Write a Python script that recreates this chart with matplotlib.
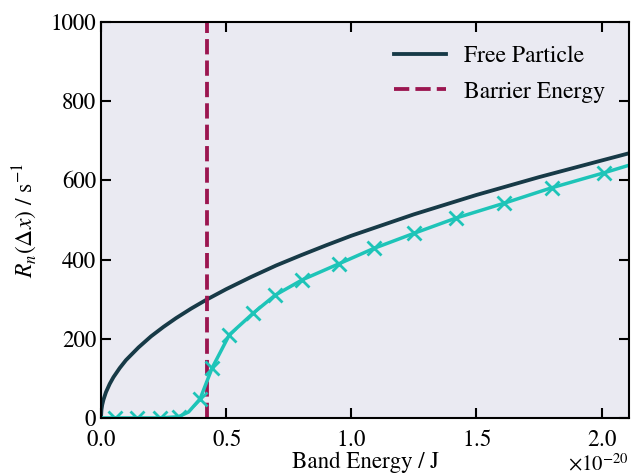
import numpy as np
import matplotlib
matplotlib.use("Agg")
from matplotlib import pyplot as plt
from matplotlib.ticker import ScalarFormatter

plt.rcParams['font.family'] = ['STIXGeneral', 'DejaVu Serif']
plt.rcParams['mathtext.fontset'] = 'stix'

# energies in units of 1e-20 J
free_E = [0, 0.002, 0.005, 0.01, 0.02, 0.035, 0.05, 0.075, 0.1, 0.15, 0.2, 0.25, 0.3, 0.36,
          0.42, 0.5, 0.6, 0.7, 0.8, 0.9, 1.0, 1.25, 1.5, 1.75, 2.0, 2.12]
free_R = [0, 21, 33, 46, 65, 86, 103, 126, 146, 178, 206, 230, 252, 276,
          298, 325, 356, 385, 411, 436, 460, 514, 563, 608, 650, 670]

band_E = [0, 0.056, 0.144, 0.236, 0.31, 0.35, 0.396, 0.444, 0.513, 0.609, 0.696, 0.805,
          0.95, 1.09, 1.25, 1.42, 1.61, 1.80, 2.01, 2.12]
band_R = [0, 0, 0, 0, 3, 15, 48, 126, 210, 265, 310, 349,
          389, 428, 466, 505, 542, 581, 619, 640]
marker_idx = [1, 2, 3, 4, 6, 7, 8, 9, 10, 11, 12, 13, 14, 15, 16, 17, 18]

barrier_E = 0.424
scale = 1e-20

fig = plt.figure(figsize=(6.31, 4.76), dpi=100)
ax = fig.add_axes([0.160, 0.122, 0.837, 0.832])
ax.set_facecolor('#eaeaf2')

ax.plot(np.array(free_E) * scale, free_R, color='#173a47', lw=2.75, label='Free Particle')
ax.axvline(barrier_E * scale, color='#9b1650', lw=2.75, ls=(0, (4.0, 1.6)), label='Barrier Energy')
ax.plot(np.array(band_E) * scale, band_R, color='#1ec4b8', lw=2.5, marker='x',
        markersize=10.5, mew=2, markevery=marker_idx)

ax.set_xlim(0, 2.11 * scale)
ax.set_ylim(0, 1000)
ax.set_xticks(np.array([0, 0.5, 1.0, 1.5, 2.0]) * scale)
ax.set_yticks([0, 200, 400, 600, 800, 1000])
fmt = ScalarFormatter(useMathText=True)
ax.xaxis.set_major_formatter(fmt)
# draw the x10^-20 multiplier ourselves so it stays inside the figure
ax.xaxis.get_offset_text().set_visible(False)
ax.text(1.0, -0.117, r'$\times 10^{-20}$', transform=ax.transAxes,
        ha='right', va='center', fontsize=15)

ax.tick_params(direction='in', top=True, right=True, length=7, width=1.5, labelsize=16.5)
ax.tick_params(axis='x', pad=8.5)
for s in ax.spines.values():
    s.set_linewidth(1.5)

ax.set_xlabel('Band Energy / J', fontsize=16.5, labelpad=0)
ax.set_ylabel(r'$R_n(\Delta x)$ / s$^{-1}$', fontsize=17, labelpad=8)
ax.legend(loc='upper right', frameon=False, fontsize=17, handlelength=2.2,
          labelspacing=0.6, borderaxespad=0.6)

plt.savefig('out.png', dpi=100)
